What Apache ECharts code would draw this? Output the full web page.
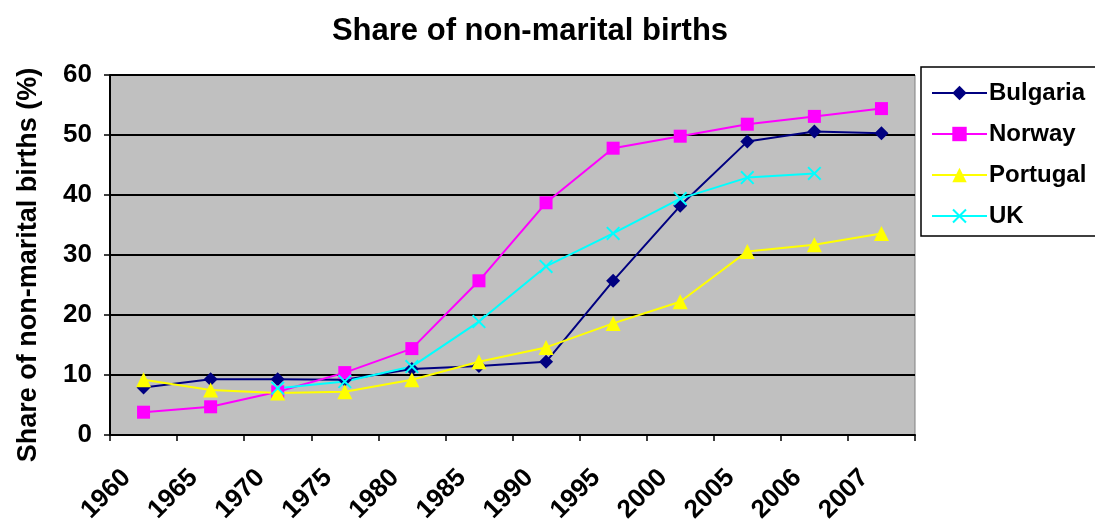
<!DOCTYPE html>
<html>
<head>
<meta charset="utf-8">
<script src="https://cdn.jsdelivr.net/npm/echarts@6/dist/echarts.min.js"></script>
<style>
html, body { margin: 0; padding: 0; background: #fff; }
#chart { width: 1095px; height: 521px; }
</style>
</head>
<body>
<div id="chart"></div>
<script>
// categories (years) and series values
const years = ['1960', '1965', '1970', '1975', '1980', '1985', '1990', '1995', '2000', '2005', '2006', '2007'];
const bulgaria = [7.9, 9.3, 9.3, 9.2, 11.0, 11.5, 12.2, 25.7, 38.2, 48.9, 50.6, 50.3];
const norway = [3.8, 4.7, 7.2, 10.4, 14.4, 25.7, 38.7, 47.8, 49.8, 51.8, 53.1, 54.4];
const portugal = [9.2, 7.5, 7.0, 7.2, 9.2, 12.2, 14.6, 18.6, 22.2, 30.6, 31.7, 33.6];
const uk = [null, null, 7.8, 8.9, 11.4, 18.9, 28.1, 33.6, 39.4, 42.9, 43.6, null];

const crossSymbol = 'path://M0,1L1,0L5,4L9,0L10,1L6,5L10,9L9,10L5,6L1,10L0,9L4,5Z';
const font = 'Liberation Sans, Arial, sans-serif';

function line(name, data, color, symbol, size) {
    return {
        name: name,
        type: 'line',
        data: data,
        symbol: symbol,
        symbolSize: size,
        connectNulls: false,
        lineStyle: { color: color, width: 2 },
        itemStyle: { color: color }
    };
}

const option = {
    backgroundColor: '#ffffff',
    animation: false,
    title: {
        text: 'Share of non-marital births',
        left: 525,
        textAlign: 'center',
        top: 11,
        textStyle: { fontFamily: font, fontSize: 31, fontWeight: 'bold', color: '#000' }
    },
    legend: {
        orient: 'vertical',
        left: 921,
        top: 67,
        padding: [14, 10, 8, 10],
        itemGap: 17,
        itemWidth: 55,
        itemHeight: 18,
        borderColor: '#000',
        borderWidth: 1.5,
        textStyle: { fontFamily: font, fontSize: 24, fontWeight: 'bold', color: '#000', padding: [0, 0, 0, -3] },
        data: ['Bulgaria', 'Norway', 'Portugal', 'UK']
    },
    grid: {
        left: 110,
        right: 180,
        top: 75,
        bottom: 86,
        outerBoundsMode: 'none',
        show: true,
        backgroundColor: '#c0c0c0',
        borderColor: '#808080',
        borderWidth: 1
    },
    xAxis: {
        type: 'category',
        data: years,
        boundaryGap: true,
        axisLine: { lineStyle: { color: '#000', width: 2 } },
        axisTick: { show: true, alignWithLabel: false, length: 6, lineStyle: { color: '#000', width: 1.5 } },
        axisLabel: {
            rotate: 45,
            margin: 40,
            verticalAlign: 'bottom',
            padding: [0, 11, 0, 0],
            fontFamily: font,
            fontSize: 26,
            fontWeight: 'bold',
            color: '#000'
        }
    },
    yAxis: {
        type: 'value',
        min: 0,
        max: 60,
        interval: 10,
        name: 'Share of non-marital births (%)',
        nameLocation: 'middle',
        nameGap: 68,
        nameTextStyle: { fontFamily: font, fontSize: 27, fontWeight: 'bold', color: '#000', padding: [0, 20, 0, 0] },
        axisLine: { show: true, lineStyle: { color: '#000', width: 2 } },
        axisTick: { show: true, length: 6, lineStyle: { color: '#000', width: 1.5 } },
        axisLabel: { margin: 18, fontFamily: font, fontSize: 26, fontWeight: 'bold', color: '#000' },
        splitLine: { show: true, lineStyle: { color: '#000', width: 2 } }
    },
    series: [
        line('Bulgaria', bulgaria, '#000080', 'diamond', 14),
        line('Norway', norway, '#ff00ff', 'rect', 13),
        line('Portugal', portugal, '#ffff00', 'triangle', 15),
        line('UK', uk, '#00ffff', crossSymbol, 14)
    ]
};

echarts.init(document.getElementById('chart')).setOption(option);
</script>
</body>
</html>
